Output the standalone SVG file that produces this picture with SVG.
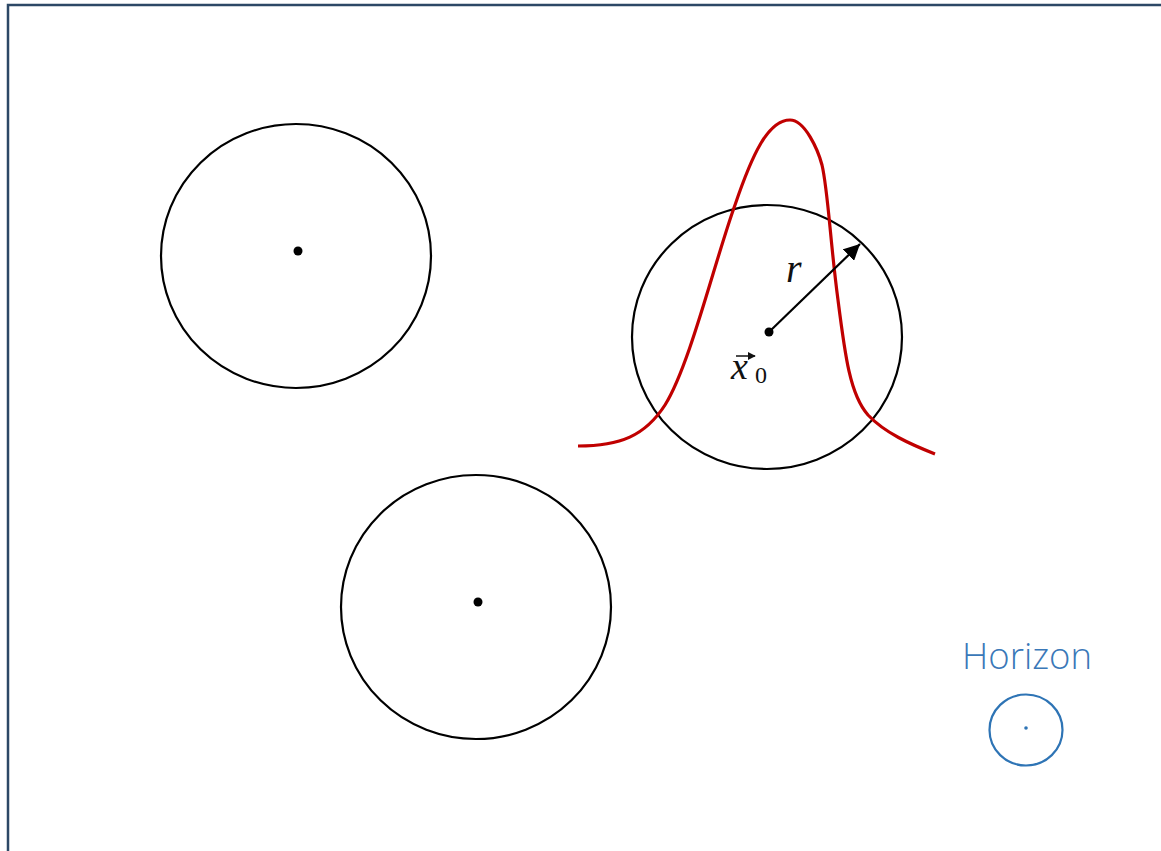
<svg xmlns="http://www.w3.org/2000/svg" width="1161" height="851" viewBox="0 0 1161 851">
<defs>
<marker id="ah" viewBox="0 0 10 10" refX="9" refY="5" markerWidth="8" markerHeight="8" markerUnits="userSpaceOnUse" orient="auto">
<path d="M0,0 L10,5 L0,10 z" fill="#111"/>
</marker>
<marker id="ah2" viewBox="0 0 10 10" refX="10" refY="5" markerWidth="16" markerHeight="16" markerUnits="userSpaceOnUse" orient="auto">
<path d="M0,0 L10,5 L0,10 z" fill="#000"/>
</marker>
<style>
.ball{fill:none;stroke:#000;stroke-width:2.2}
.dot{fill:#000}
.math{font-family:"Liberation Serif","DejaVu Serif",serif;font-style:italic;fill:#111}
.hz{font-family:"Open Sans","Noto Sans",sans-serif;font-weight:300;fill:#3a78b8}
</style>
</defs>
<rect x="0" y="0" width="1161" height="851" fill="#fff"/>
<path d="M8,851 L8,5 L1161,5" fill="none" stroke="#2c4866" stroke-width="2.5"/>
<g id="ball1">
<ellipse class="ball" cx="296" cy="256" rx="135" ry="132"/>
<circle class="dot" cx="298" cy="251" r="4.5"/>
</g>
<g id="ball2">
<ellipse class="ball" cx="476" cy="607" rx="135" ry="132"/>
<circle class="dot" cx="478" cy="602" r="4.5"/>
</g>
<g id="ball3">
<ellipse class="ball" cx="767" cy="337" rx="135" ry="132"/>
<circle class="dot" cx="769" cy="332" r="4.5"/>
</g>
<g id="gaussian">
<path d="M578,446 C620,446 645,436 665,405 C690,365 715,260 735,205 C752,155 768,120 790,120 C805,120 818,150 822,165 C828,190 830,240 838,300 C845,355 850,395 868,415 C885,433 910,444 935,454" fill="none" stroke="#c00000" stroke-width="3.2"/>
</g>
<g id="connectors">
<line x1="769" y1="332" x2="860" y2="244" stroke="#000" stroke-width="2.2" marker-end="url(#ah2)"/>
</g>
<g id="labels">
<text class="math" x="786" y="282" font-size="40">r</text>
<text class="math" x="731" y="379" font-size="38">x</text>
<path d="M736,356 L755,356" stroke="#111" stroke-width="1.5" marker-end="url(#ah)"/>
<text x="755" y="383" font-size="24" font-family="Liberation Serif,DejaVu Serif,serif" fill="#111">0</text>
</g>
<g id="horizon">
<text class="hz" x="1027" y="669" font-size="36.5" text-anchor="middle">Horizon</text>
<ellipse cx="1026" cy="730" rx="36.5" ry="35.5" fill="none" stroke="#2e74b5" stroke-width="2.2"/>
<circle cx="1026" cy="728" r="1.8" fill="#2e74b5"/>
</g>
</svg>
